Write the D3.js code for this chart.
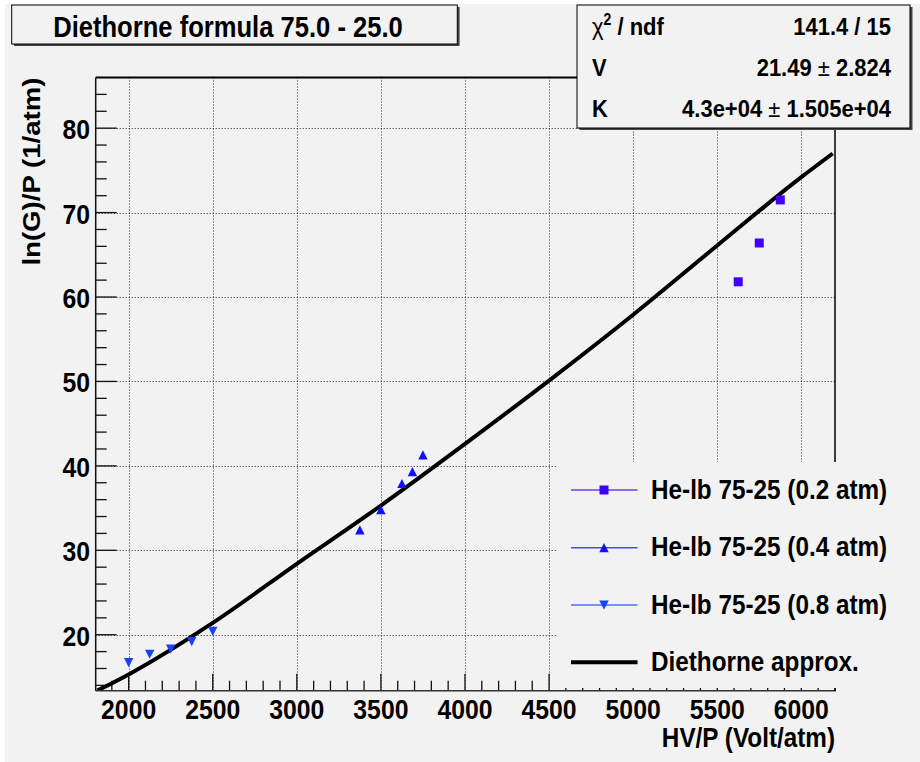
<!DOCTYPE html>
<html>
<head>
<meta charset="utf-8">
<script src="https://cdn.jsdelivr.net/npm/d3@7"></script>
<style>
  html, body { margin: 0; padding: 0; background: #fff; }
  text { font-family: "Liberation Sans", Arial, Helvetica, sans-serif; font-weight: bold; fill: #000; }
</style>
</head>
<body>
<div class="visualization"></div>
<script>
// data
const titleText = 'Diethorne formula 75.0 - 25.0';
const xTitle = 'HV/P (Volt/atm)';
const yTitle = 'ln(G)/P (1/atm)';

const xTicks = [2000, 2500, 3000, 3500, 4000, 4500, 5000, 5500, 6000];
const yTicks = [20, 30, 40, 50, 60, 70, 80];

const p02X = [5625, 5750, 5875];
const p02Y = [61.8, 66.4, 71.5];
const p04X = [3375, 3500, 3625, 3687.5, 3750];
const p04Y = [32.4, 34.8, 37.9, 39.3, 41.3];
const p08X = [2000, 2125, 2250, 2375, 2500];
const p08Y = [16.7, 17.7, 18.3, 19.2, 20.4];

// Diethorne fit curve, read at a few points
const fitX = [1815, 2000, 2500, 3000, 3500, 4000, 4500, 5000, 5500, 6000, 6187];
const fitY = [13.4, 15.3, 21.4, 28.4, 35.3, 42.6, 50.1, 57.9, 66.1, 74.2, 77.0];

const legendLabels = ['He-lb 75-25 (0.2 atm)', 'He-lb 75-25 (0.4 atm)', 'He-lb 75-25 (0.8 atm)', 'Diethorne approx.'];
const statNames = ['V', 'K'];
const statValues = ['21.49', '4.3e+04'];
const statErrors = ['2.824', '1.505e+04'];
const chi2Text = '141.4 / 15';

const width = 920, height = 762;
const frame = {left: 95.7, right: 835, top: 77.5, bottom: 690.7};
const SY = 1.12; // glyphs in the picture are a bit taller than wide

const svg = d3.select('.visualization').append('svg')
    .attr('width', width)
    .attr('height', height);

svg.append('rect')
    .attr('x', 5).attr('y', 4)
    .attr('width', width - 5).attr('height', height - 4)
    .attr('fill', '#f2f2f2');

const x = d3.scaleLinear().domain([1804, 6200.4]).range([frame.left, frame.right]);
const y = d3.scaleLinear().domain([13.37, 86.0]).range([frame.bottom, frame.top]);

function label(parent, px, py, str, size, anchor, sy) {
    return parent.append('text')
        .attr('transform', `translate(${px},${py}) scale(1,${sy || SY})`)
        .attr('text-anchor', anchor || 'start')
        .style('font-size', size + 'px')
        .text(str);
}

// grid
const grid = svg.append('g').attr('class', 'grid')
    .attr('stroke', '#222').attr('stroke-width', 1).attr('stroke-dasharray', '1,2');
grid.selectAll('.gx').data(xTicks).enter().append('line')
    .attr('x1', d => Math.round(x(d)) + 0.5).attr('x2', d => Math.round(x(d)) + 0.5)
    .attr('y1', frame.top).attr('y2', frame.bottom);
grid.selectAll('.gy').data(yTicks).enter().append('line')
    .attr('x1', frame.left).attr('x2', frame.right)
    .attr('y1', d => Math.round(y(d)) + 0.5).attr('y2', d => Math.round(y(d)) + 0.5);

// ticks, drawn inside the frame
const ticks = svg.append('g').attr('stroke', '#111').attr('stroke-width', 1.3);
const yMinor = d3.range(14, 86, 2);
ticks.selectAll('.ty').data(yMinor).enter().append('line')
    .attr('x1', frame.left)
    .attr('x2', d => frame.left + (d % 10 === 0 ? 21 : 11))
    .attr('y1', d => y(d)).attr('y2', d => y(d));
const xMinor = d3.range(1900, 6201, 100);
ticks.selectAll('.tx').data(xMinor).enter().append('line')
    .attr('y1', frame.bottom)
    .attr('y2', d => frame.bottom - (d % 500 === 0 ? 17 : 10))
    .attr('x1', d => x(d)).attr('x2', d => x(d));

// tick labels
xTicks.forEach(t => label(svg, x(t), 719, d3.format('d')(t), 24.8, 'middle'));
yTicks.forEach(t => label(svg, 90, y(t) + 11, t, 24.8, 'end'));

// fit curve
svg.append('clipPath').attr('id', 'plotclip').append('rect')
    .attr('x', frame.left).attr('y', frame.top)
    .attr('width', frame.right - frame.left).attr('height', frame.bottom - frame.top);
const fitLine = d3.line()
    .x(d => x(d[0])).y(d => y(d[1]))
    .curve(d3.curveMonotoneX);
svg.append('path')
    .datum(d3.zip(fitX, fitY))
    .attr('clip-path', 'url(#plotclip)')
    .attr('d', fitLine)
    .attr('fill', 'none')
    .attr('stroke', '#000')
    .attr('stroke-width', 4);

// markers
const markerColors = ['#4000ff', '#1010ff', '#1a40ff'];
const markerShapes = [
    'M-4.5,-4.5H4.5V4.5H-4.5Z',
    'M-4.7,4.5L4.7,4.5L0,-4.7Z',
    'M-4.7,-4.5L4.7,-4.5L0,4.7Z'
];
const seriesData = [d3.zip(p02X, p02Y), d3.zip(p04X, p04Y), d3.zip(p08X, p08Y)];
seriesData.forEach((pts, i) => {
    svg.append('g').selectAll('path').data(pts).enter().append('path')
        .attr('transform', d => `translate(${x(d[0])},${y(d[1])})`)
        .attr('d', markerShapes[i])
        .attr('fill', markerColors[i]);
});

// frame
svg.append('line')
    .attr('x1', frame.left).attr('x2', frame.left)
    .attr('y1', frame.top).attr('y2', frame.bottom)
    .attr('stroke', '#111').attr('stroke-width', 1.5);
svg.append('line')
    .attr('x1', frame.left).attr('x2', frame.right + 1)
    .attr('y1', frame.bottom).attr('y2', frame.bottom)
    .attr('stroke', '#333').attr('stroke-width', 1.5);
svg.append('line')
    .attr('x1', frame.left).attr('x2', frame.right)
    .attr('y1', frame.top).attr('y2', frame.top)
    .attr('stroke', '#000').attr('stroke-width', 2);
svg.append('line')
    .attr('x1', frame.right).attr('x2', frame.right)
    .attr('y1', frame.top).attr('y2', frame.bottom)
    .attr('stroke', '#000').attr('stroke-width', 1.5);

// axis titles
label(svg, frame.right, 747, xTitle, 24.3, 'end');
svg.append('text')
    .attr('transform', `translate(40,${frame.top}) rotate(-90) scale(1.15,1)`)
    .attr('text-anchor', 'end')
    .style('font-size', '24px')
    .text(yTitle);

// legend
const legend = svg.append('g').attr('class', 'legend');
legend.append('rect')
    .attr('x', 557).attr('y', 462).attr('width', width - 557).attr('height', 226)
    .attr('fill', '#f2f2f2');
const legendRows = [490, 547.7, 605, 662.3];
legendLabels.forEach((s, i) => {
    const ly = legendRows[i];
    const isFit = i === 3;
    legend.append('line')
        .attr('x1', 571).attr('x2', 637.5)
        .attr('y1', ly).attr('y2', ly)
        .attr('stroke', isFit ? '#000' : markerColors[i])
        .attr('stroke-opacity', isFit ? 1 : 0.75)
        .attr('stroke-width', isFit ? 4 : 1.5);
    if (!isFit) {
        legend.append('path')
            .attr('transform', `translate(604,${ly})`)
            .attr('d', markerShapes[i])
            .attr('fill', markerColors[i]);
    }
    label(legend, 651, ly + 8.5, s, 24.3, 'start');
});

// stats box
const stats = svg.append('g').attr('class', 'stats');
stats.append('rect')
    .attr('x', 579.5).attr('y', 7).attr('width', 333).attr('height', 123)
    .attr('fill', '#444');
stats.append('rect')
    .attr('x', 577).attr('y', 5).attr('width', 333).attr('height', 123)
    .attr('fill', '#f2f2f2').attr('stroke', '#000').attr('stroke-width', 1);
const chiLabel = stats.append('text')
    .attr('transform', `translate(592,35) scale(1,${SY})`)
    .style('font-size', '22px');
chiLabel.append('tspan').style('font-weight', 'normal').text('χ');
chiLabel.append('tspan').attr('dy', -9).style('font-size', '14px').text('2');
chiLabel.append('tspan').attr('dy', 9).text(' / ndf');
label(stats, 891, 35, chi2Text, 22, 'end');
statNames.forEach((n, i) => {
    const by = 76 + i * 40.5;
    label(stats, 592, by, n, 22, 'start');
    const t = stats.append('text')
        .attr('transform', `translate(891,${by}) scale(1,${SY})`)
        .attr('text-anchor', 'end')
        .style('font-size', '22px');
    t.append('tspan').text(statValues[i] + ' ');
    t.append('tspan').style('font-weight', 'normal').text('±');
    t.append('tspan').text(' ' + statErrors[i]);
});

// title box
const titleBox = svg.append('g').attr('class', 'title');
titleBox.append('rect')
    .attr('x', 14).attr('y', 7).attr('width', 445.6).attr('height', 39)
    .attr('fill', '#444');
titleBox.append('rect')
    .attr('x', 11.7).attr('y', 5).attr('width', 445.6).attr('height', 39)
    .attr('fill', '#f2f2f2').attr('stroke', '#000').attr('stroke-width', 1);
label(titleBox, 228, 37, titleText, 25.6, 'middle');
</script>
</body>
</html>
